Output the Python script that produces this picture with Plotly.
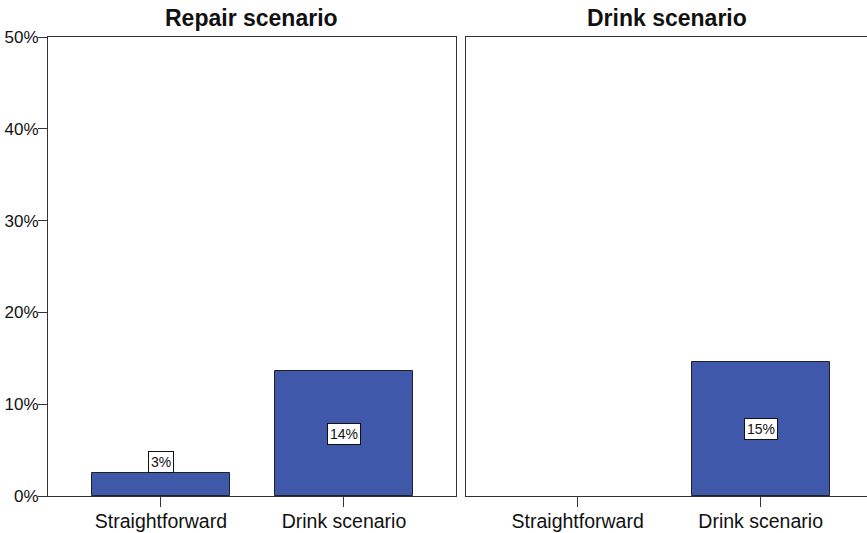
import plotly.graph_objects as go

categories = ["Straightforward", "Drink scenario"]
panel_titles = ["Repair scenario", "Drink scenario"]
repair_values = [2.5, 13.6]
drink_values = [0, 14.6]
repair_labels = ["3%", "14%"]
drink_labels = ["", "15%"]
y_ticks = [0, 10, 20, 30, 40, 50]
y_tick_labels = ["0%", "10%", "20%", "30%", "40%", "50%"]

W, H = 867, 533
BAR = "#3F58AA"
FONT = "Liberation Sans, Arial, sans-serif"

fig = go.Figure()
x_idx = list(range(len(categories)))
for i, vals in enumerate([repair_values, drink_values]):
    ax = "" if i == 0 else "2"
    fig.add_trace(go.Bar(
        x=x_idx, y=[v if v > 0 else None for v in vals], width=0.754,
        xaxis="x" + ax, yaxis="y" + ax,
        marker=dict(color=BAR, line=dict(color="#222222", width=1)),
        showlegend=False, hoverinfo="skip"))

def px_x(p):
    return p / W

def px_y(p):
    return (H - p) / H

common_x = dict(tickmode="array", tickvals=x_idx, ticktext=categories,
                showline=True, linecolor="#333333", linewidth=1, mirror=True,
                ticks="outside", ticklen=10, tickcolor="#333333",
                tickfont=dict(family=FONT, size=19.5, color="#111111"),
                ticklabelstandoff=-2,
                showgrid=False, zeroline=False, fixedrange=True, automargin=False)
common_y = dict(range=[0, 50], tickvals=y_ticks, ticktext=y_tick_labels,
                showgrid=False, zeroline=False, fixedrange=True, automargin=False,
                showline=True, linecolor="#333333", linewidth=1)

fig.update_layout(
    width=W, height=H,
    margin=dict(l=0, r=0, t=0, b=0),
    paper_bgcolor="white", plot_bgcolor="white",
    bargap=0,
    xaxis=dict(common_x, domain=[px_x(48), px_x(456)], range=[-0.617, 1.612], anchor="y"),
    xaxis2=dict(common_x, domain=[px_x(466), 1.0], range=[-0.61, 1.581], anchor="y2"),
    yaxis=dict(common_y, domain=[px_y(496), px_y(37)], anchor="x", mirror=True,
               ticks="outside", ticklen=9, tickcolor="#333333",
               ticklabelstandoff=-4,
               tickfont=dict(family=FONT, size=17, color="#111111")),
    yaxis2=dict(common_y, domain=[px_y(496), px_y(37)], anchor="x2", mirror=False,
                showticklabels=False, ticks=""),
)

annotations = []
for i, t in enumerate(panel_titles):
    ax = "x" if i == 0 else "x2"
    annotations.append(dict(text="<b>" + t + "</b>", xref=ax + " domain", x=0.5,
                            yref="paper", y=px_y(18), showarrow=False,
                            xanchor="center", yanchor="middle",
                            font=dict(family=FONT, size=23, color="#111111")))

for i, (vals, labs) in enumerate([(repair_values, repair_labels), (drink_values, drink_labels)]):
    ax = "" if i == 0 else "2"
    for xi, v, lab in zip(x_idx, vals, labs):
        if not lab:
            continue
        inside = v >= 6
        annotations.append(dict(
            text=lab, xref="x" + ax, yref="y" + ax, x=xi,
            y=v / 2 if inside else v,
            yanchor="middle" if inside else "bottom",
            showarrow=False, bgcolor="white", bordercolor="#111111", borderwidth=1,
            borderpad=2, font=dict(family=FONT, size=14, color="#111111")))

fig.update_layout(annotations=annotations)
fig.write_html("out.html", config={"displayModeBar": False},
               post_script="document.body.style.margin='0';document.body.style.overflow='hidden';")
